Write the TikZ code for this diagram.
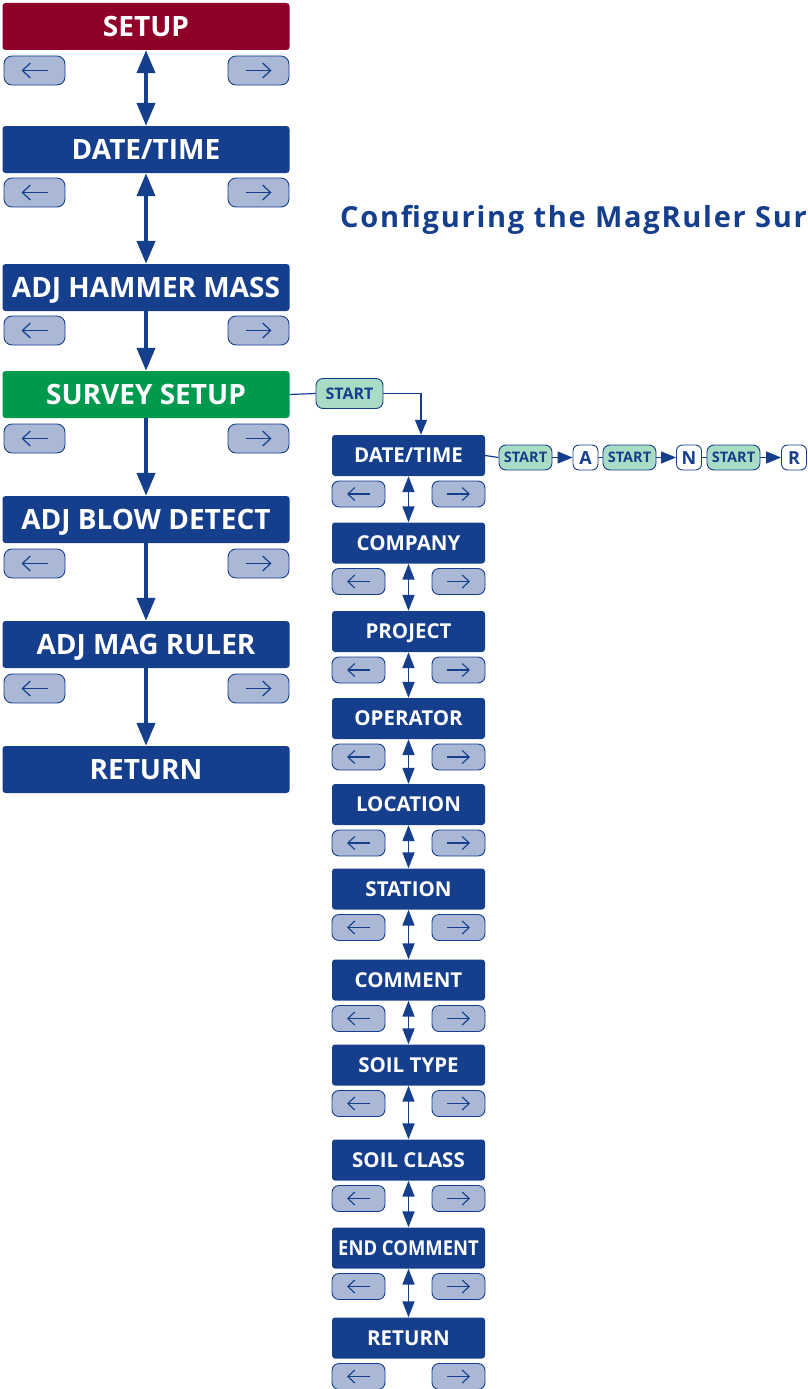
\documentclass[tikz,border=0pt]{standalone}
\usepackage{fontspec}
\setmainfont{Open Sans}
\usetikzlibrary{arrows.meta}
\definecolor{nblue}{RGB}{21,62,140}
\definecolor{setupred}{RGB}{143,0,40}
\definecolor{sgreen}{RGB}{0,154,78}
\definecolor{keyfill}{RGB}{170,184,214}
\definecolor{startfill}{RGB}{168,220,196}
\tikzset{
  lbox/.style={rectangle, rounded corners=3pt, fill=nblue, text=white, inner sep=0pt,
    minimum width=287pt, minimum height=47pt, text height=20pt, text depth=0pt,
    font=\bfseries\fontsize{28}{28}\selectfont},
  rbox/.style={rectangle, rounded corners=3pt, fill=nblue, text=white, inner sep=0pt,
    minimum width=153pt, minimum height=41pt, text height=14.5pt, text depth=0pt,
    font=\bfseries\fontsize{20.5}{20.5}\selectfont},
  lkey/.style={rectangle, rounded corners=8pt, fill=keyfill, draw=nblue, line width=0.9pt,
    minimum width=61pt, minimum height=29pt, inner sep=0pt},
  rkey/.style={rectangle, rounded corners=7pt, fill=keyfill, draw=nblue, line width=0.9pt,
    minimum width=53pt, minimum height=26pt, inner sep=0pt},
  startkey/.style={rectangle, rounded corners=7pt, fill=startfill, draw=nblue, line width=0.9pt,
    text=nblue, inner sep=0pt, minimum height=25pt, minimum width=53pt,
    text height=10.5pt, text depth=0pt, font=\bfseries\fontsize{14.5}{14.5}\selectfont},
  letterkey/.style={rectangle, rounded corners=6pt, fill=white, draw=nblue, line width=0.9pt,
    text=nblue, inner sep=0pt, minimum height=25pt, minimum width=25pt,
    text height=13pt, text depth=0pt, font=\bfseries\fontsize{18}{18}\selectfont},
  lkeyarrow/.style={draw=nblue, line width=1.2pt, -{Straight Barb[length=8pt,width=15pt]}},
  rkeyarrow/.style={draw=nblue, line width=1.1pt, -{Straight Barb[length=7pt,width=13pt]}},
  ldown/.style={draw=nblue, line width=4pt, -{Triangle[length=23pt,width=18pt]}},
  ldbl/.style={draw=nblue, line width=4pt, {Triangle[length=23pt,width=18pt]}-{Triangle[length=23pt,width=18pt]}},
  rdbl/.style={draw=nblue, line width=1.8pt, {Triangle[length=16pt,width=12pt]}-{Triangle[length=16pt,width=12pt]}},
  thinline/.style={draw=nblue, line width=1.2pt},
  thinarrow/.style={draw=nblue, line width=1.2pt, -{Triangle[length=15pt,width=12pt]}},
}
\begin{document}
\begin{tikzpicture}[x=1pt,y=-1pt]
\useasboundingbox (0,0) rectangle (808,1389);
\fill[white] (0,0) rectangle (808,1389);

% main menu column
\node[lbox, fill=setupred] (setup)  at (146,26.5)  {SETUP};
\node[lbox]                (ldate)  at (146,149.5) {DATE/TIME};
\node[lbox]                (hammer) at (146,287.5) {ADJ HAMMER MASS};
\node[lbox, fill=sgreen]   (survey) at (146,394.5) {SURVEY SETUP};
\node[lbox]                (blow)   at (146,519.5) {ADJ BLOW DETECT};
\node[lbox]                (mag)    at (146,644.5) {ADJ MAG RULER};
\node[lbox]                (lret)   at (146,769.5) {RETURN};

% left/right keys under each main menu entry
\foreach \n/\y in {setup/70.5, ldate/192.5, hammer/330.5, survey/438.5, blow/563.5, mag/688.5}{
  \node[lkey] (\n-l) at (34.5,\y) {};
  \node[lkey] (\n-r) at (258.5,\y) {};
  \draw[lkeyarrow] ([xshift=13pt]\n-l.center) -- ([xshift=-13pt]\n-l.center);
  \draw[lkeyarrow] ([xshift=-13pt]\n-r.center) -- ([xshift=13pt]\n-r.center);
}

% connections of the main menu
\draw[ldbl]  (setup.south)  -- (ldate.north);
\draw[ldbl]  (ldate.south)  -- (hammer.north);
\draw[ldown] (hammer.south) -- (survey.north);
\draw[ldown] (survey.south) -- (blow.north);
\draw[ldown] (blow.south)   -- (mag.north);
\draw[ldown] (mag.south)    -- (lret.north);

% heading
\node[anchor=base west, inner sep=0pt, text=nblue,
  font=\bfseries\fontsize{29}{29}\selectfont\addfontfeature{LetterSpace=6}]
  (title) at (340,227) {Configuring the MagRuler Sur};

% survey setup submenu
\foreach \y/\lab [count=\i] in {455.5/{DATE/TIME}, 543/{COMPANY}, 631.5/{PROJECT}, 718.5/{OPERATOR},
    804.5/{LOCATION}, 889/{STATION}, 980/{COMMENT}, 1065/{SOIL TYPE}, 1160/{SOIL CLASS},
    1248/{\scalebox{0.9}[1]{END COMMENT}}, 1338/{RETURN}}{
  \node[rbox] (r\i) at (408.5,\y) {\lab};
  \node[rkey] (r\i l) at (358.5,\y+38.5) {};
  \node[rkey] (r\i r) at (458.5,\y+38.5) {};
  \draw[rkeyarrow] ([xshift=11.5pt]r\i l.center) -- ([xshift=-11.5pt]r\i l.center);
  \draw[rkeyarrow] ([xshift=-11.5pt]r\i r.center) -- ([xshift=11.5pt]r\i r.center);
}
\foreach \i [evaluate=\i as \j using int(\i+1)] in {1,...,10}{
  \draw[rdbl] (r\i.south) -- (r\j.north);
}

% entry into the submenu
\node[startkey, minimum width=67pt, minimum height=30pt, text height=11.5pt,
  font=\bfseries\fontsize{16}{16}\selectfont]
  (st0) at (349.5,393.5) {START};
\draw[thinline] (survey.east) -- (st0.west);
\draw[thinarrow] (st0.east) -| ([xshift=12.5pt]r1.north);

% date/time entry sequence
\node[startkey]  (st1) at (525.5,457.5) {START};
\node[letterkey] (ka)  at (585.5,457.5) {A};
\node[startkey]  (st2) at (629.5,457.5) {START};
\node[letterkey] (kn)  at (689,457.5)   {N};
\node[startkey]  (st3) at (733.5,457.5) {START};
\node[letterkey] (kr)  at (794,457.5)   {R};
\draw[thinline]  (r1.east)  -- (st1.west);
\draw[thinarrow] (st1.east) -- (ka.west);
\draw[thinline]  (ka.east)  -- (st2.west);
\draw[thinarrow] (st2.east) -- (kn.west);
\draw[thinline]  (kn.east)  -- (st3.west);
\draw[thinarrow] (st3.east) -- (kr.west);
\end{tikzpicture}
\end{document}
